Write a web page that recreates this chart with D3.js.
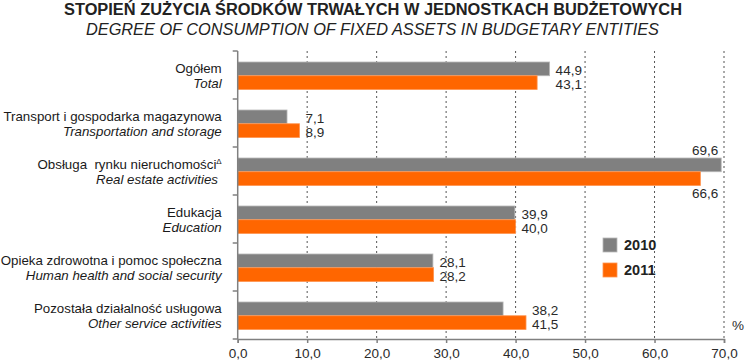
<!DOCTYPE html>
<html>
<head>
<meta charset="utf-8">
<script src="https://cdn.jsdelivr.net/npm/d3@7"></script>
<style>
  body { margin: 0; background: #fff; }
  text { font-family: "Liberation Sans", Arial, sans-serif; }
</style>
</head>
<body>
<div id="chart"></div>
<script>
// Categories (Polish / English) and values
var categoriesPl = ["Ogółem", "Transport i gospodarka magazynowa", "Obsługa  rynku nieruchomości", "Edukacja", "Opieka zdrowotna i pomoc społeczna", "Pozostała działalność usługowa"];
var categoriesEn = ["Total", "Transportation and storage", "Real estate activities\u00a0", "Education", "Human health and social security", "Other service activities"];
var supers = ["", "", "\u0394", "", "", ""];
var years = ["2010", "2011"];
var values2010 = [44.9, 7.1, 69.6, 39.9, 28.1, 38.2];
var values2011 = [43.1, 8.9, 66.6, 40.0, 28.2, 41.5];
var xTicks = [0, 10, 20, 30, 40, 50, 60, 70];
var colors = ["#808080", "#ff6600"];
var strokes = ["#b8b8b8", "#ff9450"];

var width = 750, height = 361;
var margin = { top: 51, right: 26, bottom: 22, left: 237.7 };
var w = width - margin.left - margin.right,
    h = height - margin.top - margin.bottom;

var fmt = function(v) { return d3.format(".1f")(v).replace(".", ","); };

var svg = d3.select("#chart").append("svg")
    .attr("width", width)
    .attr("height", height);

// Titles
svg.append("text")
    .attr("x", 64).attr("y", 15)
    .attr("textLength", 618).attr("lengthAdjust", "spacingAndGlyphs")
    .style("font-size", "16px").style("font-weight", "bold").style("fill", "#222")
    .text("STOPIEŃ ZUŻYCIA ŚRODKÓW TRWAŁYCH W JEDNOSTKACH BUDŻETOWYCH");
svg.append("text")
    .attr("x", 86).attr("y", 34.5)
    .attr("textLength", 573).attr("lengthAdjust", "spacingAndGlyphs")
    .style("font-size", "16px").style("font-style", "italic").style("fill", "#222")
    .text("DEGREE OF CONSUMPTION OF FIXED ASSETS IN BUDGETARY ENTITIES");

var g = svg.append("g")
    .attr("transform", "translate(" + margin.left + "," + margin.top + ")");

var x = d3.scaleLinear().domain([0, 70]).range([0, w]);
var y = d3.scaleBand().domain(d3.range(categoriesPl.length)).range([0, h]);
var y1 = d3.scaleBand().domain(years).range([11, 38.5]);

// Dotted grid lines
g.selectAll(".grid")
    .data(xTicks.slice(1))
    .enter().append("line")
    .attr("x1", function(d) { return x(d); })
    .attr("x2", function(d) { return x(d); })
    .attr("y1", 0).attr("y2", h)
    .style("stroke", "#555").style("stroke-width", 1)
    .style("stroke-dasharray", "2,3");

// Bars
var series = [values2010, values2011];
years.forEach(function(yr, s) {
    g.selectAll(".bar" + yr)
        .data(series[s])
        .enter().append("rect")
        .attr("x", x(0))
        .attr("y", function(d, i) { return y(i) + y1(yr); })
        .attr("width", function(d) { return x(d) - x(0); })
        .attr("height", y1.bandwidth())
        .style("fill", colors[s])
        .style("stroke", strokes[s]).style("stroke-width", 0.8);
});

// Value labels
categoriesPl.forEach(function(c, i) {
    var a = values2010[i], b = values2011[i];
    var maxEnd = x(Math.max(a, b));
    var outside = maxEnd + 30 > w;
    [a, b].forEach(function(v, s) {
        var yr = years[s];
        var t = g.append("text")
            .style("font-size", "13.5px").style("fill", "#2a2a2a")
            .text(fmt(v));
        if (outside) {
            t.attr("x", maxEnd - 3)
             .attr("text-anchor", "end")
             .attr("y", s === 0 ? y(i) + y1(yr) - 3.5 : y(i) + y1(yr) + y1.bandwidth() + 12);
        } else {
            t.attr("x", maxEnd + 6)
             .attr("y", y(i) + y1(yr) + y1.bandwidth() - 0.5);
        }
    });
});

// Category labels
categoriesPl.forEach(function(c, i) {
    var cy = y(i) + y.bandwidth() / 2;
    var t1 = g.append("text")
        .attr("x", -16).attr("y", cy - 2)
        .attr("text-anchor", "end")
        .style("font-size", "13.3px").style("fill", "#1a1a1a")
        .style("white-space", "pre");
    t1.append("tspan").text(c);
    if (supers[i]) {
        t1.append("tspan").attr("dy", -5).style("font-size", "8px").text(supers[i]);
    }
    g.append("text")
        .attr("x", -16).attr("y", cy + 13)
        .attr("text-anchor", "end")
        .style("font-size", "13.3px").style("font-style", "italic").style("fill", "#1a1a1a")
        .text(categoriesEn[i]);
});

// Left axis with group separator ticks
g.append("line")
    .attr("x1", 0).attr("x2", 0).attr("y1", 0).attr("y2", h)
    .style("stroke", "#808080").style("stroke-width", 1.5);
g.selectAll(".ytick")
    .data(d3.range(categoriesPl.length + 1))
    .enter().append("line")
    .attr("x1", -5).attr("x2", 0)
    .attr("y1", function(d) { return d < categoriesPl.length ? y(d) : h; })
    .attr("y2", function(d) { return d < categoriesPl.length ? y(d) : h; })
    .style("stroke", "#808080").style("stroke-width", 1.5);

// Bottom axis
var xAxis = g.append("g")
    .attr("transform", "translate(0," + h + ")")
    .call(d3.axisBottom(x).tickValues(xTicks).tickSize(4).tickFormat(function(d) { return fmt(d); }));
xAxis.select(".domain").style("stroke", "#808080").style("stroke-width", 1.5);
xAxis.selectAll(".tick line").style("stroke", "#808080").style("stroke-width", 1.5);
xAxis.selectAll(".tick text")
    .attr("y", 9)
    .style("font-family", "'Liberation Sans', Arial, sans-serif")
    .style("font-size", "13.5px").style("fill", "#2a2a2a");

// Unit
g.append("text")
    .attr("x", w + 8).attr("y", h - 9)
    .style("font-size", "13.5px").style("fill", "#2a2a2a")
    .text("%");

// Legend
var legend = svg.append("g").attr("transform", "translate(603,238)");
years.forEach(function(yr, s) {
    legend.append("rect")
        .attr("x", 0).attr("y", s * 25)
        .attr("width", 14).attr("height", 14)
        .style("fill", colors[s]).style("stroke", strokes[s]).style("stroke-width", 0.8);
    legend.append("text")
        .attr("x", 21).attr("y", s * 25 + 12)
        .style("font-size", "14.5px").style("font-weight", "bold").style("fill", "#222")
        .text(yr);
});
</script>
</body>
</html>
